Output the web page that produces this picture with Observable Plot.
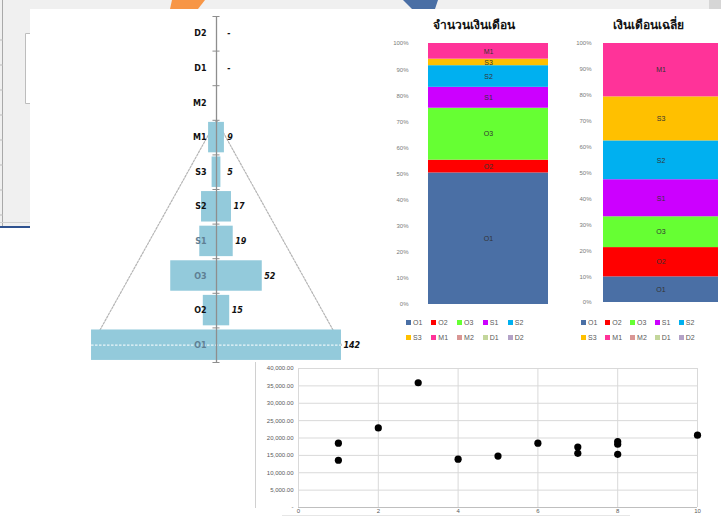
<!DOCTYPE html>
<html>
<head>
<meta charset="utf-8">
<script src="https://cdn.jsdelivr.net/npm/d3@7"></script>
<script src="https://cdn.jsdelivr.net/npm/@observablehq/plot@0.6"></script>
<style>
  html, body { margin: 0; padding: 0; background: #fff; overflow: hidden; }
  #root { position: relative; width: 721px; height: 517px; overflow: hidden; font-family: "Liberation Sans", "DejaVu Sans", sans-serif; }
  .abs { position: absolute; }
  .title { position: absolute; font-weight: bold; font-size: 12px; color: #111; white-space: nowrap; transform: translateX(-50%); }
  .legend { position: absolute; display: grid; grid-template-columns: repeat(5, auto); column-gap: 5px; row-gap: 8px; font-size: 7px; color: #595959; }
  .legend span.item { display: inline-flex; align-items: center; gap: 2px; white-space: nowrap; }
  .legend span.sw { display: inline-block; width: 5px; height: 5px; }
  #root svg { overflow: visible; }
</style>
</head>
<body>
<div id="root"></div>
<script>
// ---------- data ----------
const pyramidCats = ["D2", "D1", "M2", "M1", "S3", "S2", "S1", "O3", "O2", "O1"];
const pyramidVals = [0, 0, 0, 9, 5, 17, 19, 52, 15, 142];
const pyramidLabels = ["-", "-", "", "9", "5", "17", "19", "52", "15", "142"];

const stackCats = ["O1", "O2", "O3", "S1", "S2", "S3", "M1", "M2", "D1", "D2"];
const stackColors = ["#4a6fa5", "#ff0000", "#66ff33", "#cc00ff", "#00b0f0", "#ffc000", "#ff3399", "#d99694", "#c3d69b", "#b3a2c7"];
const countShare = [50.4, 4.9, 19.9, 8.0, 8.3, 2.5, 6.0, 0, 0, 0];   // จำนวนเงินเดือน (%)
const avgShare = [9.9, 11.3, 11.9, 14.3, 15.0, 17.0, 20.6, 0, 0, 0]; // เงินเดือนเฉลี่ย (%)
const titleCount = "จำนวนเงินเดือน";
const titleAvg = "เงินเดือนเฉลี่ย";

const scatterX = [1, 1, 2, 3, 4, 5, 6, 7, 7, 8, 8, 8, 10];
const scatterY = [18500, 13600, 22900, 35900, 13900, 14800, 18500, 17400, 15600, 19000, 18200, 15300, 20800];
const scatterXTicks = [0, 2, 4, 6, 8, 10];
const scatterYTicks = [0, 5000, 10000, 15000, 20000, 25000, 30000, 35000, 40000];

// ---------- layout helpers ----------
const root = document.getElementById("root");
function place(el, left, top, extra) {
  const wrap = document.createElement("div");
  wrap.className = "abs";
  wrap.style.left = left + "px";
  wrap.style.top = top + "px";
  if (extra) Object.assign(wrap.style, extra);
  wrap.appendChild(el);
  root.appendChild(wrap);
  return wrap;
}

// ---------- background decoration (slide screenshot) ----------
root.insertAdjacentHTML("beforeend", `
<svg class="abs" style="left:0;top:0" width="721" height="517">
  <rect x="0" y="0" width="721" height="9" fill="#f0f0f0"/>
  <rect x="709" y="0" width="12" height="9" fill="#d6d6d6"/>
  <rect x="0" y="0" width="30" height="228" fill="#f0f0f0"/>
  <line x1="2.5" y1="0" x2="2.5" y2="228" stroke="#a9a9a9"/>
  <line x1="0" y1="40" x2="3" y2="40" stroke="#bbb"/>
  <line x1="0" y1="65" x2="3" y2="65" stroke="#bbb"/>
  <line x1="0" y1="90" x2="3" y2="90" stroke="#bbb"/>
  <line x1="0" y1="115" x2="3" y2="115" stroke="#bbb"/>
  <line x1="0" y1="140" x2="3" y2="140" stroke="#bbb"/>
  <line x1="0" y1="165" x2="3" y2="165" stroke="#bbb"/>
  <line x1="0" y1="190" x2="3" y2="190" stroke="#bbb"/>
  <line x1="0" y1="215" x2="3" y2="215" stroke="#bbb"/>
  <rect x="25" y="33" width="5" height="70" fill="#fff"/>
  <polyline points="30,33.5 25.5,33.5 25.5,103.5 30,103.5" fill="none" stroke="#bdbdbd"/>
  <line x1="0" y1="222.5" x2="30" y2="222.5" stroke="#d0d0d0"/>
  <rect x="0" y="226" width="30" height="2" fill="#2f528f"/>
  <polygon points="172,0 205,0 198,9 170,9" fill="#f79646"/>
  <polygon points="403,0 438,0 435,9 412,9" fill="#4a6fa5"/>
  <line x1="255.5" y1="362" x2="255.5" y2="508" stroke="#d0d0d0"/>
  <line x1="282" y1="515.5" x2="630" y2="515.5" stroke="#e6e6e6"/>
</svg>`);

// ---------- pyramid ----------
const pyr = pyramidCats.map((c, i) => ({cat: c, v: pyramidVals[i], label: pyramidLabels[i], i}));
const iM1 = pyramidCats.indexOf("M1");
const iO1 = pyramidCats.indexOf("O1");
const vO1 = pyramidVals[iO1];
const triLeft = [{x: 0, y: iM1}, {x: -vO1 / 2, y: iO1 + 0.5}];
const triRight = [{x: 0, y: iM1}, {x: vO1 / 2, y: iO1 + 0.5}];

const pyramid = Plot.plot({
  width: 400, height: 370,
  marginLeft: 40, marginRight: 8, marginTop: 16, marginBottom: 8,
  style: {background: "transparent", fontFamily: "DejaVu Sans, sans-serif"},
  x: {domain: [-100, 100], axis: null},
  y: {domain: [0, 10], reverse: true, axis: null},
  marks: [
    Plot.line(triLeft, {x: "x", y: "y", stroke: "#b5b5b5", strokeWidth: 1.2, strokeDasharray: "2,1.5"}),
    Plot.line(triRight, {x: "x", y: "y", stroke: "#b5b5b5", strokeWidth: 1.2, strokeDasharray: "2,1.5"}),
    Plot.rect(pyr.filter(d => d.v > 0), {
      x1: d => -d.v / 2, x2: d => d.v / 2,
      y1: d => d.i + 0.06, y2: d => d.i + 0.94,
      fill: "#93cadb"
    }),
    Plot.ruleY([iO1 + 0.5], {x1: -vO1 / 2, x2: vO1 / 2, stroke: "#eaf6fa", strokeWidth: 1.2, strokeDasharray: "2.5,1.5"}),
    Plot.ruleX([0], {y1: 0, y2: pyramidCats.length, stroke: "#8e8e8e", strokeWidth: 1.3}),
    Plot.ruleY(d3.range(0, pyramidCats.length + 1), {x1: -2, x2: 2, stroke: "#8e8e8e"}),
    Plot.text(pyr, {
      x: 0, y: d => d.i + 0.5, text: "cat", dx: -10, textAnchor: "end",
      fontSize: 8, fontWeight: "bold",
      fill: d => d.v * 1.76 / 2 > 16 ? "#5f7f93" : "#111"
    }),
    Plot.text(pyr, {
      x: d => Math.max(d.v / 2, 5), y: d => d.i + 0.5, text: "label", dx: 2, textAnchor: "start",
      fontSize: 8, fontWeight: "bold", fontStyle: "italic", fill: "#111"
    })
  ]
});
place(pyramid, 0, 0);

// ---------- stacked 100% bars ----------
function stackRows(share) {
  let acc = 0;
  return stackCats.map((c, i) => {
    const p = share[i] / 100;
    const r = {cat: c, p, y1: acc, y2: acc + p};
    acc += p;
    return r;
  });
}
function stackChart(share, o) {
  const rows = stackRows(share);
  const shown = rows.filter(d => d.p > 0);
  return Plot.plot({
    width: o.width, height: o.height,
    marginLeft: o.ml, marginRight: o.mr, marginTop: o.mt, marginBottom: o.mb,
    style: {background: "transparent", fontFamily: "Liberation Sans, sans-serif", color: "#7a7a7a"},
    x: {domain: ["A"], axis: null, padding: 0},
    y: {domain: [0, 1], axis: null},
    color: {domain: stackCats, range: stackColors},
    marks: [
      Plot.axisY({ticks: d3.range(0, 1.0001, 0.1), tickFormat: d3.format(".0%"), tickSize: 0, tickPadding: o.pad, fontSize: 6, fill: "#7a7a7a", label: null}),
      Plot.barY(shown, {x: () => "A", y1: "y1", y2: "y2", fill: "cat", inset: 0}),
      Plot.text(shown, {x: () => "A", y: d => (d.y1 + d.y2) / 2, text: "cat", fontSize: 7, fill: "#333"})
    ]
  });
}
function legend(left, top, colGap) {
  const div = document.createElement("div");
  div.className = "legend";
  div.style.left = left + "px";
  div.style.top = top + "px";
  div.style.columnGap = colGap + "px";
  stackCats.forEach((c, i) => {
    const s = document.createElement("span");
    s.className = "item";
    s.innerHTML = `<span class="sw" style="background:${stackColors[i]}"></span>${c}`;
    div.appendChild(s);
  });
  root.appendChild(div);
}
function title(text, cx, top) {
  const t = document.createElement("div");
  t.className = "title";
  t.style.left = cx + "px";
  t.style.top = top + "px";
  t.textContent = text;
  root.appendChild(t);
}

place(stackChart(countShare, {width: 180, height: 312, ml: 48, mr: 12, mt: 43, mb: 8, pad: 20}), 380, 0);
place(stackChart(avgShare, {width: 171, height: 310, ml: 53, mr: 3, mt: 43, mb: 8, pad: 12}), 550, 0);
title(titleCount, 474, 15);
title(titleAvg, 648, 15);
legend(406, 319, 9);
legend(581, 319, 8);

// ---------- scatter ----------
const pts = scatterX.map((x, i) => ({x, y: scatterY[i]}));
const scatter = Plot.plot({
  width: 460, height: 170,
  marginLeft: 48, marginRight: 13, marginTop: 8, marginBottom: 23,
  style: {background: "transparent", fontFamily: "Liberation Sans, sans-serif", color: "#595959"},
  x: {domain: [0, 10], axis: null},
  y: {domain: [0, 40000], axis: null},
  marks: [
    Plot.gridX(scatterXTicks, {stroke: "#d9d9d9", strokeOpacity: 1}),
    Plot.gridY(scatterYTicks, {stroke: "#d9d9d9", strokeOpacity: 1}),
    Plot.ruleY([0], {stroke: "#bfbfbf"}),
    Plot.axisY(scatterYTicks, {tickSize: 0, tickPadding: 5, fontSize: 6, fill: "#595959",
      tickFormat: d => d === 0 ? "-" : d3.format(",.2f")(d), label: null}),
    Plot.axisX(scatterXTicks, {tickSize: 0, tickPadding: 1, fontSize: 6, fill: "#595959", label: null}),
    Plot.dot(pts, {x: "x", y: "y", r: 3.6, fill: "#000"})
  ]
});
place(scatter, 250, 360, {width: "460px", height: "157px", overflow: "hidden"});
</script>
</body>
</html>
